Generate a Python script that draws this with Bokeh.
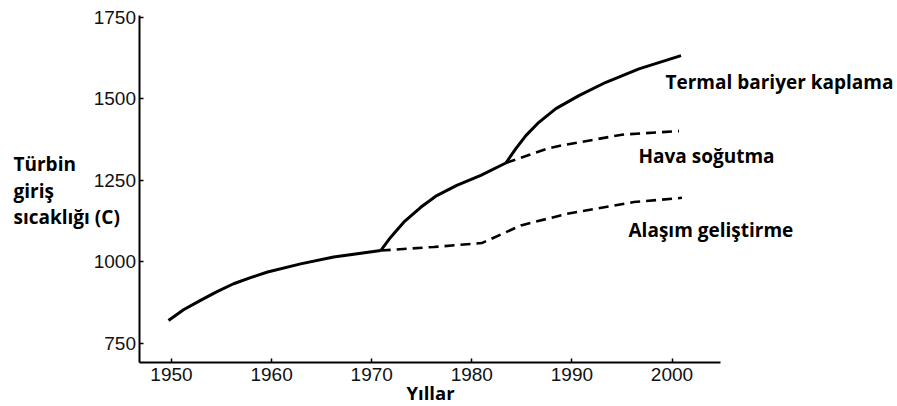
from bokeh.plotting import figure
from bokeh.models import Range1d, FixedTicker, Label
from bokeh.embed import file_html
from bokeh.resources import INLINE

# ---- data ----
base_years = [1949.7, 1951.2, 1952.9, 1954.5, 1956.2, 1957.9, 1959.6, 1962.9, 1966.2, 1970.9]
base_temp = [819, 852, 881, 907, 932, 951, 968, 993, 1014, 1034]

mid_years = [1970.9, 1971.9, 1973.2, 1974.9, 1976.5, 1978.5, 1980.9, 1983.4]
mid_temp = [1034, 1075, 1121, 1167, 1203, 1234, 1265, 1303]

tbc_years = [1983.4, 1984.4, 1985.4, 1986.7, 1988.4, 1990.7, 1993.4, 1996.7, 2000.9]
tbc_temp = [1303, 1347, 1387, 1428, 1470, 1510, 1551, 1592, 1633]

air_years = [1983.4, 1987.5, 1989.0, 1995.0, 2000.7]
air_temp = [1303, 1347, 1357, 1390, 1401]

alloy_years = [1970.9, 1976.2, 1981.0, 1984.9, 1989.5, 1996.2, 2001.0]
alloy_temp = [1034, 1045, 1057, 1111, 1147, 1183, 1196]

x_ticks = [1950, 1960, 1970, 1980, 1990, 2000]
y_ticks = [750, 1000, 1250, 1500, 1750]

series_labels = ["Termal bariyer kaplama", "Hava soğutma", "Alaşım geliştirme"]
y_title_lines = ["Türbin", "giriş", "sıcaklığı (C)"]
x_title = "Yıllar"

# ---- figure: frame covers the whole canvas, axes drawn at fixed locations ----
W, H = 897, 406
PX_PER_YEAR = 10.01
PX_PER_UNIT = 0.3255
X0 = 1950 - 171 / PX_PER_YEAR
X1 = X0 + W / PX_PER_YEAR
Y1 = 1750 + 17 / PX_PER_UNIT
Y0 = Y1 - H / PX_PER_UNIT

def dx(px):
    return X0 + px / PX_PER_YEAR
def dy(py):
    return Y1 - py / PX_PER_UNIT

p = figure(width=W, height=H, output_backend="svg", toolbar_location=None,
           title=None, x_range=Range1d(X0, X1), y_range=Range1d(Y0, Y1),
           min_border=0, min_border_left=0, min_border_right=0,
           min_border_top=0, min_border_bottom=0)
p.outline_line_color = None
p.grid.visible = False
p.background_fill_color = "white"
p.border_fill_color = "white"

xa, ya = p.xaxis[0], p.yaxis[0]
for ax in (xa, ya):
    ax.axis_line_color = "black"
    ax.axis_line_width = 2
    ax.major_tick_line_color = "black"
    ax.major_tick_line_width = 1.5
    ax.minor_tick_line_color = None
    ax.major_tick_in = 4
    ax.major_tick_out = 0
    ax.major_label_text_font = "Liberation Sans"
    ax.major_label_text_font_size = "19px"
    ax.major_label_text_color = "#111111"

xa.ticker = FixedTicker(ticks=x_ticks)
ya.ticker = FixedTicker(ticks=y_ticks)
xa.fixed_location = dy(362)
ya.fixed_location = dx(138.5)
xa.bounds = (dx(138.5), dx(720))
ya.bounds = (dy(362), dy(15))
xa.major_label_standoff = 5
ya.major_label_standoff = 3

solid = dict(line_color="black", line_width=3, line_join="round")
dashed = dict(line_color="black", line_width=2.6, line_dash="10 6")
p.line(base_years, base_temp, **solid)
p.line(mid_years, mid_temp, **solid)
p.line(tbc_years, tbc_temp, **solid)
p.line(air_years, air_temp, **dashed)
p.line(alloy_years, alloy_temp, **dashed)

font = "Open Sans"
fs = "19px"
SHIFT = 6.5
def add_text(txt, px, py, size=fs):
    p.add_layout(Label(x=dx(px), y=dy(py - SHIFT), text=txt, text_font=font,
                       text_font_size=size, text_font_style="bold",
                       text_color="black", text_baseline="alphabetic",
                       text_align="left"))

for txt, (lx, ly) in zip(series_labels, [(665, 88), (638, 161.5), (628, 236)]):
    add_text(txt, lx, ly)
for txt, (lx, ly) in zip(y_title_lines, [(13, 170), (13, 196.5), (13, 223)]):
    add_text(txt, lx, ly)
add_text(x_title, 406, 398.5, "18.5px")

open("out.html", "w").write(file_html(p, INLINE))
